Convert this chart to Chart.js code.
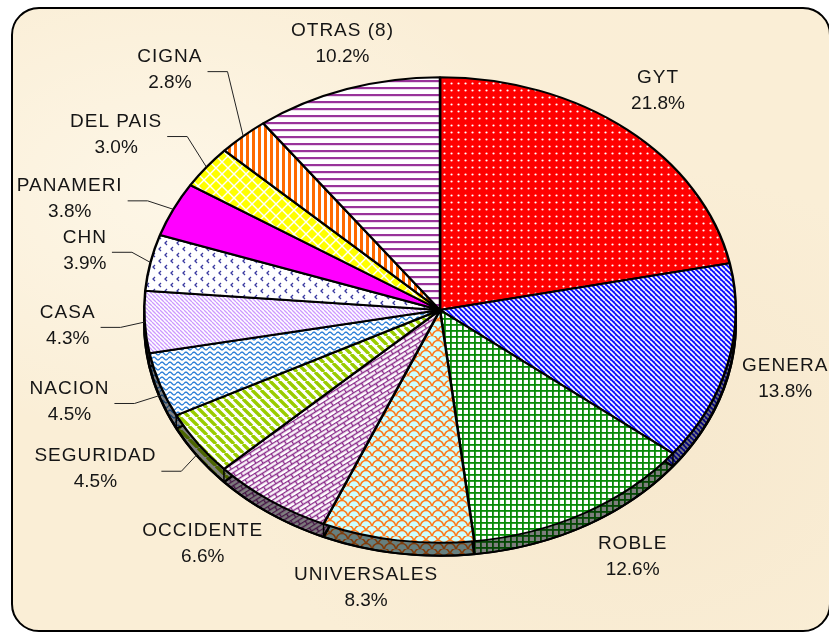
<!DOCTYPE html>
<html>
<head>
<meta charset="utf-8">
<script src="https://cdn.jsdelivr.net/npm/chart.js@4/dist/chart.umd.min.js"></script>
<style>
  body { margin: 0; overflow: hidden; background: #fff; }
  #frame {
    position: absolute; left: 11px; top: 7px; width: 816px; height: 621px;
    border: 2.5px solid #000; border-radius: 28px;
    background:
      radial-gradient(ellipse at 20% 30%, rgba(255,250,238,.7), rgba(255,250,238,0) 40%),
      radial-gradient(ellipse at 75% 70%, rgba(244,228,200,.6), rgba(244,228,200,0) 45%),
      radial-gradient(ellipse at 60% 15%, rgba(250,238,215,.8), rgba(250,238,215,0) 35%),
      #faeed6;
  }
  #c { position: absolute; left: 0; top: 0; }
</style>
</head>
<body>
<div id="frame"></div>
<canvas id="c" width="829" height="634"></canvas>
<script>
// data
const labels = ['GYT', 'GENERA', 'ROBLE', 'UNIVERSALES', 'OCCIDENTE', 'SEGURIDAD', 'NACION',
                'CASA', 'CHN', 'PANAMERI', 'DEL PAIS', 'CIGNA', 'OTRAS (8)']
const shares = [21.8, 13.8, 12.6, 8.3, 6.6, 4.5, 4.5, 4.3, 3.9, 3.8, 3.0, 2.8, 10.2]

// label tweaks (px), leader line flags
const labelNudge = [[-10, -4], [-6, 5], [16, 5], [-22, 3], [-30, 6], [-49, 0], [-29, 2],
                    [-12, 1], [-2, -3], [-45, 9], [-39, -5], [-30, -33], [16, -3]]
const hasLeader = [0, 0, 0, 0, 0, 1, 1, 1, 1, 1, 1, 1, 0]

const SQUASH = 233 / 296
const DEPTH = 13

const canvas = document.getElementById('c')
const ctx = canvas.getContext('2d')

function tile(w, h, draw, rot) {
    const c = document.createElement('canvas')
    c.width = w; c.height = h
    const g = c.getContext('2d')
    draw(g, w, h)
    const p = ctx.createPattern(c, 'repeat')
    let m = new DOMMatrix().scale(1, 1 / SQUASH)
    if (rot) m = m.rotate(rot)
    p.setTransform(m)
    return p
}

function diag(bg, fg, n, lw, back) {
    return tile(n, n, (g) => {
        g.fillStyle = bg; g.fillRect(0, 0, n, n)
        g.strokeStyle = fg; g.lineWidth = lw
        g.beginPath()
        for (let k = -1; k <= 1; k++) {
            if (back) { g.moveTo(k * n, 0); g.lineTo(k * n + n, n) }
            else { g.moveTo(k * n, n); g.lineTo(k * n + n, 0) }
        }
        g.stroke()
    })
}

const fills = [
    // GYT red dots
    tile(7, 7, (g) => {
        g.fillStyle = '#ff0000'; g.fillRect(0, 0, 7, 7)
        g.fillStyle = '#ffffff'; g.beginPath(); g.arc(3.5, 3.5, 1.1, 0, Math.PI * 2); g.fill()
    }),
    // GENERA blue stripes
    diag('#1010ff', '#ffffff', 5, 1.6, true),
    // ROBLE green grid
    tile(6, 6, (g) => {
        g.fillStyle = '#ffffff'; g.fillRect(0, 0, 6, 6)
        g.fillStyle = '#078a07'; g.fillRect(0, 0, 6, 1.8); g.fillRect(0, 0, 1.8, 6)
    }),
    // UNIVERSALES shingles
    tile(12, 10, (g) => {
        g.fillStyle = '#ccffff'; g.fillRect(0, 0, 12, 10)
        g.strokeStyle = '#ff7a1a'; g.lineWidth = 1.5
        g.beginPath(); g.arc(6, 10, 5.5, Math.PI, 2 * Math.PI); g.stroke()
        g.beginPath(); g.arc(0, 5, 5.5, Math.PI, 2 * Math.PI); g.stroke()
        g.beginPath(); g.arc(12, 5, 5.5, Math.PI, 2 * Math.PI); g.stroke()
    }),
    // OCCIDENTE bricks
    tile(12, 8, (g) => {
        g.fillStyle = '#ffffff'; g.fillRect(0, 0, 12, 8)
        g.strokeStyle = '#8a2a8a'; g.lineWidth = 1.4
        g.beginPath()
        g.moveTo(0, 0.5); g.lineTo(12, 0.5)
        g.moveTo(0, 4.5); g.lineTo(12, 4.5)
        g.moveTo(0.5, 0); g.lineTo(0.5, 4.5)
        g.moveTo(6.5, 4.5); g.lineTo(6.5, 8)
        g.stroke()
    }, -32),
    // SEGURIDAD green stripes
    diag('#ffffff', '#99cc00', 9, 3.4, true),
    // NACION waves
    tile(8, 5, (g) => {
        g.fillStyle = '#ffffff'; g.fillRect(0, 0, 8, 5)
        g.strokeStyle = '#2f80d8'; g.lineWidth = 1.4
        g.beginPath()
        for (let x = 0; x <= 8; x += 0.5) {
            const y = 2.5 - 1.4 * Math.sin(x / 8 * Math.PI * 2)
            if (x === 0) g.moveTo(x, y); else g.lineTo(x, y)
        }
        g.stroke()
    }),
    // CASA lavender stripes
    diag('#ffffff', '#cc99ff', 4, 1.3, true),
    // CHN chevrons
    tile(12, 12, (g) => {
        g.fillStyle = '#ffffff'; g.fillRect(0, 0, 12, 12)
        g.strokeStyle = '#3a3aa0'; g.lineWidth = 1.3
        g.beginPath()
        g.moveTo(5, 1); g.lineTo(3, 3); g.lineTo(5, 5)
        g.moveTo(11, 7); g.lineTo(9, 9); g.lineTo(11, 11)
        g.stroke()
    }),
    // PANAMERI solid
    '#ff00ff',
    // DEL PAIS diamonds
    tile(12, 12, (g) => {
        g.fillStyle = '#ffffff'; g.fillRect(0, 0, 12, 12)
        g.fillStyle = '#ffff00'
        const dia = (x, y) => { g.beginPath(); g.moveTo(x - 5, y); g.lineTo(x, y - 5); g.lineTo(x + 5, y); g.lineTo(x, y + 5); g.fill() }
        dia(0, 0); dia(12, 0); dia(0, 12); dia(12, 12); dia(6, 6)
    }),
    // CIGNA orange vertical
    tile(6, 6, (g) => {
        g.fillStyle = '#ffffff'; g.fillRect(0, 0, 6, 6)
        g.fillStyle = '#ff6a00'; g.fillRect(0, 0, 3, 6)
    }),
    // OTRAS purple horizontal
    tile(7, 7, (g) => {
        g.fillStyle = '#ffffff'; g.fillRect(0, 0, 7, 7)
        g.fillStyle = '#99339a'; g.fillRect(0, 0, 7, 2.2)
    })
]

function squash(c, cx, cy) {
    c.translate(cx, cy)
    c.scale(1, SQUASH)
    c.translate(-cx, -cy)
}

const pie3d = {
    id: 'pie3d',
    beforeDatasetsDraw(chart) {
        const c = chart.ctx
        const arcs = chart.getDatasetMeta(0).data
        const cx = arcs[0].x, cy = arcs[0].y, r = arcs[0].outerRadius
        // side of the pie
        c.save()
        c.translate(0, DEPTH)
        squash(c, cx, cy)
        arcs.forEach(a => a.draw(c))
        c.beginPath()
        c.arc(cx, cy, r, 0, Math.PI * 2)
        c.fillStyle = 'rgba(0,0,0,0.5)'
        c.fill()
        c.lineWidth = 2.5
        c.strokeStyle = '#000'
        c.stroke()
        c.restore()
        // top face
        c.save()
        squash(c, cx, cy)
    },
    afterDatasetsDraw(chart) {
        const c = chart.ctx
        c.restore()
        const arcs = chart.getDatasetMeta(0).data
        const cx = arcs[0].x, cy = arcs[0].y, r = arcs[0].outerRadius
        c.save()
        c.strokeStyle = '#000'
        c.lineWidth = 1.5
        arcs.forEach(a => {
            const s = Math.sin(a.startAngle)
            if (s > 0.05) {
                const x = cx + r * Math.cos(a.startAngle)
                const y = cy + r * SQUASH * s
                c.beginPath(); c.moveTo(x, y); c.lineTo(x, y + DEPTH); c.stroke()
            }
        })
        c.restore()
    },
    afterDraw(chart) {
        const c = chart.ctx
        const arcs = chart.getDatasetMeta(0).data
        const cx = arcs[0].x, cy = arcs[0].y, r = arcs[0].outerRadius
        c.save()
        c.fillStyle = '#151515'
        c.textAlign = 'center'
        c.textBaseline = 'middle'
        arcs.forEach((a, i) => {
            const mid = (a.startAngle + a.endAngle) / 2
            const lx = cx + (r + 65) * Math.cos(mid) + labelNudge[i][0]
            const ly = cy + (r * SQUASH + 45) * Math.sin(mid) + labelNudge[i][1]
            const pct = shares[i].toFixed(1) + '%'
            c.font = '19px "Liberation Sans", Arial, sans-serif'
            c.letterSpacing = '1px'
            c.fillText(labels[i], lx, ly - 13)
            const w1 = c.measureText(labels[i]).width
            c.letterSpacing = '0px'
            c.fillText(pct, lx, ly + 13)
            const w2 = c.measureText(pct).width
            if (hasLeader[i]) {
                const sx = lx + Math.max(w1, w2) / 2 + 5
                const sy = ly + 2
                let ex = cx + r * Math.cos(mid)
                let ey = cy + r * SQUASH * Math.sin(mid)
                if (Math.sin(mid) > 0.2) ey += DEPTH * 0.8
                c.strokeStyle = '#222'
                c.lineWidth = 1
                c.beginPath()
                c.moveTo(sx, sy)
                c.lineTo(sx + 20, sy)
                c.lineTo(ex, ey)
                c.stroke()
            }
        })
        c.restore()
    }
}

new Chart(canvas, {
    type: 'pie',
    data: {
        labels: labels,
        datasets: [{
            data: shares,
            backgroundColor: fills,
            borderColor: '#000',
            borderWidth: 2.5
        }]
    },
    options: {
        responsive: false,
        animation: false,
        devicePixelRatio: 1,
        layout: { padding: { left: 143, right: 92, top: 13, bottom: 27 } },
        plugins: {
            legend: { display: false },
            tooltip: { enabled: false }
        }
    },
    plugins: [pie3d]
})
</script>
</body>
</html>
